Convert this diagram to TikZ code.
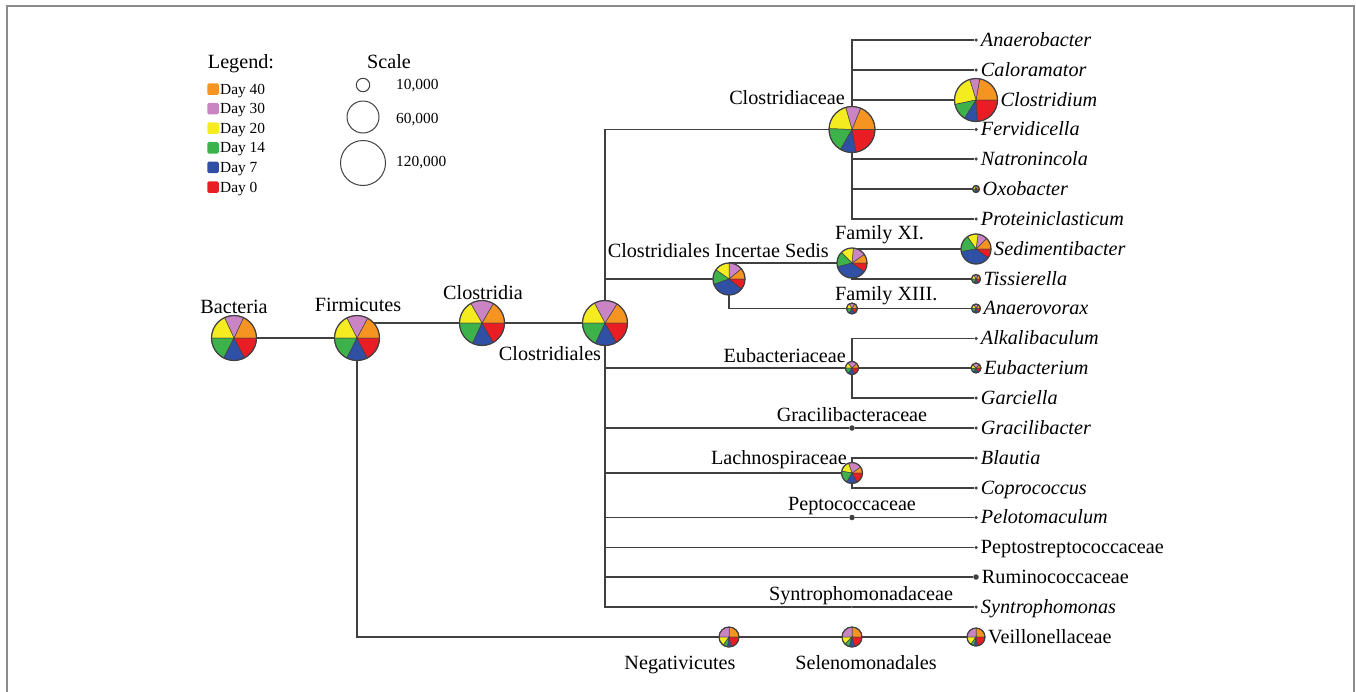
\documentclass[tikz,border=0pt]{standalone}
\usepackage{fontspec}
\setmainfont{Liberation Serif}
\usetikzlibrary{positioning}
\definecolor{dayforty}{RGB}{245,148,32}
\definecolor{daythirty}{RGB}{202,132,196}
\definecolor{daytwenty}{RGB}{244,236,32}
\definecolor{dayfourteen}{RGB}{62,178,74}
\definecolor{dayseven}{RGB}{48,80,166}
\definecolor{dayzero}{RGB}{232,30,36}
\definecolor{treegray}{RGB}{64,64,64}
\definecolor{framegray}{RGB}{140,140,140}
\tikzset{
  branch/.style={draw=treegray, line width=1.5pt},
  piebase/.style={circle, inner sep=0pt, outer sep=0pt},
  slice/.style={draw=treegray, line width=0.5pt},
  pierim/.style={draw=treegray, line width=1.2pt},
  leafdot/.style={circle, fill=treegray, inner sep=0pt, outer sep=0pt, minimum size=3.5pt},
  famdot/.style={leafdot, minimum size=5.5pt},
  taxtext/.style={font=\fontsize{20.2}{24}\selectfont, inner sep=0pt},
  leaftext/.style={taxtext, text height=12pt, text depth=0pt},
  genus/.style={leaftext, font=\fontsize{20.2}{24}\selectfont\itshape},
  keybox/.style={rectangle, rounded corners=1.5pt, minimum size=11.5pt, inner sep=0pt},
  keytext/.style={font=\fontsize{15.4}{18}\selectfont, inner sep=0pt, text height=10pt, text depth=0pt},
  scalering/.style={circle, draw=treegray, line width=1pt, inner sep=0pt},
  frame/.style={draw=framegray, line width=2pt}
}
\pgfdeclarelayer{background}
\pgfsetlayers{background,main}

% pie: name, position, radius, then the end angles of the Day 40/30/20/14/7 slices
\newcommand{\taxonpie}[8]{%
  \node[piebase, minimum size=#3*2pt] (#1) at (#2) {};
  \foreach \pa/\pb/\pc in {0/#4/dayforty, #4/#5/daythirty, #5/#6/daytwenty, #6/#7/dayfourteen, #7/#8/dayseven, #8/360/dayzero}
    \filldraw[slice, fill=\pc] (#1.center) -- ++(\pa:#3pt) arc[start angle=\pa, end angle=\pb, radius=#3pt] -- cycle;
  \draw[pierim] (#1.center) circle[radius=#3pt];
}

\begin{document}
\begin{tikzpicture}[x=1pt, y=1pt]
  \useasboundingbox (0,0) rectangle (1356,-691);
  \draw[frame] (7,-6) rectangle (1354,-720);

  % legend
  \node[taxtext, anchor=base] (legendhead) at (241,-68) {Legend:};
  \foreach \col/\txt [count=\i] in {dayforty/Day 40, daythirty/Day 30, daytwenty/Day 20, dayfourteen/Day 14, dayseven/Day 7, dayzero/Day 0} {
    \node[keybox, fill=\col] (key\i) at (213, {-89-19.6*(\i-1)}) {};
    \node[keytext, right=1pt of key\i] (keytxt\i) {\txt};
  }

  % scale
  \node[taxtext, anchor=base] (scalehead) at (389,-68) {Scale};
  \node[scalering, minimum size=13.4pt] (ring1) at (363,-85) {};
  \node[scalering, minimum size=32pt] (ring2) at (363,-117) {};
  \node[scalering, minimum size=45pt] (ring3) at (363,-163) {};
  \node[keytext, anchor=west] (ringtxt1) at (396,-84.5) {10,000};
  \node[keytext, anchor=west] (ringtxt2) at (396,-118) {60,000};
  \node[keytext, anchor=west] (ringtxt3) at (396,-161.5) {120,000};

  % taxa with pies
  \taxonpie{bact}{234,-338}{22.5}{65}{115}{180}{243}{298}
  \taxonpie{firm}{357,-338}{22.5}{62}{117}{180}{243}{297}
  \taxonpie{cla}{482,-323}{22.5}{60}{120}{180}{245}{300}
  \taxonpie{cles}{605,-323}{22.5}{58}{118}{180}{245}{300}
  \taxonpie{cfam}{852,-129.5}{23}{68}{106}{178}{240}{280}
  \taxonpie{clostridium}{976,-100}{21.5}{80}{107}{192}{238}{274}
  \taxonpie{oxobacter}{976,-189}{3.5}{60}{120}{180}{240}{300}
  \taxonpie{incert}{729,-279}{16}{40}{90}{145}{200}{322}
  \taxonpie{famxi}{852,-263}{15}{35}{85}{135}{195}{325}
  \taxonpie{sedim}{976,-249}{15}{45}{82}{125}{190}{325}
  \taxonpie{tiss}{976,-279}{4.5}{60}{120}{180}{240}{300}
  \taxonpie{famxiii}{852,-308.5}{5.5}{60}{120}{180}{240}{300}
  \taxonpie{anaerovorax}{976,-308.5}{4.5}{60}{120}{180}{240}{300}
  \taxonpie{eubfam}{852,-368}{6.5}{45}{130}{180}{235}{295}
  \taxonpie{eubact}{976,-368}{5}{45}{135}{190}{240}{295}
  \taxonpie{lachno}{852,-473}{10.5}{35}{110}{170}{240}{300}
  \taxonpie{negat}{729,-637}{10}{90}{180}{235}{262}{285}
  \taxonpie{selen}{852,-637}{10}{90}{180}{225}{255}{285}
  \taxonpie{veill}{976,-637}{9}{90}{180}{235}{260}{280}

  % taxa without pies
  \node[leafdot] (anaerobacter) at (976,-40) {};
  \node[leafdot] (caloramator) at (976,-70) {};
  \node[leafdot] (fervidicella) at (976,-129.5) {};
  \node[leafdot] (natronincola) at (976,-159) {};
  \node[leafdot] (proteinicl) at (976,-219) {};
  \node[leafdot] (alkali) at (976,-338.5) {};
  \node[leafdot] (garc) at (976,-398) {};
  \node[famdot] (gracfam) at (852,-428) {};
  \node[leafdot] (gracil) at (976,-428) {};
  \node[leafdot] (blautia) at (976,-458) {};
  \node[leafdot] (copro) at (976,-488) {};
  \node[famdot] (peptoc) at (852,-517.5) {};
  \node[leafdot] (pelot) at (976,-517.5) {};
  \node[leafdot] (peptostr) at (976,-547.5) {};
  \node[famdot] (rumino) at (976,-577) {};
  \node[leafdot, minimum size=2.5pt] (syntrfam) at (852,-607) {};
  \node[leafdot] (syntr) at (976,-607) {};

  % higher taxa labels
  \node[taxtext, anchor=base] (bact-t) at (234,-313) {Bacteria};
  \node[taxtext, anchor=base] (firm-t) at (358,-311) {Firmicutes};
  \node[taxtext, anchor=base] (cla-t) at (483,-299) {Clostridia};
  \node[taxtext, anchor=base] (cles-t) at (550,-360) {Clostridiales};
  \node[taxtext, anchor=base east] (cfam-t) at (845,-104) {Clostridiaceae};
  \node[taxtext, anchor=base east] (incert-t) at (829,-257) {Clostridiales Incertae Sedis};
  \node[taxtext, anchor=base west] (famxi-t) at (835,-239) {Family XI.};
  \node[taxtext, anchor=base west] (famxiii-t) at (835,-300) {Family XIII.};
  \node[taxtext, anchor=base east] (eubfam-t) at (846,-362) {Eubacteriaceae};
  \node[taxtext, anchor=base] (gracfam-t) at (852,-421) {Gracilibacteraceae};
  \node[taxtext, anchor=base east] (lachno-t) at (847,-464) {Lachnospiraceae};
  \node[taxtext, anchor=base] (peptoc-t) at (852,-510) {Peptococcaceae};
  \node[taxtext, anchor=base] (syntrfam-t) at (861,-600) {Syntrophomonadaceae};
  \node[taxtext, anchor=base] (negat-t) at (680,-669) {Negativicutes};
  \node[taxtext, anchor=base] (selen-t) at (866,-669) {Selenomonadales};

  % leaf labels
  \node[genus, right=3pt of anaerobacter] (anaerobacter-t) {Anaerobacter};
  \node[genus, right=3pt of caloramator] (caloramator-t) {Caloramator};
  \node[genus, right=3pt of clostridium] (clostridium-t) {Clostridium};
  \node[genus, right=3pt of fervidicella] (fervidicella-t) {Fervidicella};
  \node[genus, right=3pt of natronincola] (natronincola-t) {Natronincola};
  \node[genus, right=3pt of oxobacter] (oxobacter-t) {Oxobacter};
  \node[genus, right=3pt of proteinicl] (proteinicl-t) {Proteiniclasticum};
  \node[genus, right=3pt of sedim] (sedim-t) {Sedimentibacter};
  \node[genus, right=3pt of tiss] (tiss-t) {Tissierella};
  \node[genus, right=3pt of anaerovorax] (anaerovorax-t) {Anaerovorax};
  \node[genus, right=3pt of alkali] (alkali-t) {Alkalibaculum};
  \node[genus, right=3pt of eubact] (eubact-t) {Eubacterium};
  \node[genus, right=3pt of garc] (garc-t) {Garciella};
  \node[genus, right=3pt of gracil] (gracil-t) {Gracilibacter};
  \node[genus, right=3pt of blautia] (blautia-t) {Blautia};
  \node[genus, right=3pt of copro] (copro-t) {Coprococcus};
  \node[genus, right=3pt of pelot] (pelot-t) {Pelotomaculum};
  \node[leaftext, right=3pt of peptostr] (peptostr-t) {Peptostreptococcaceae};
  \node[leaftext, right=3pt of rumino] (rumino-t) {Ruminococcaceae};
  \node[genus, right=3pt of syntr] (syntr-t) {Syntrophomonas};
  \node[leaftext, right=3pt of veill] (veill-t) {Veillonellaceae};

  % tree
  \begin{pgfonlayer}{background}
    \draw[branch] (bact) -- (firm);
    \draw[branch] (firm |- cla) -- (cla) -- (cles);
    \draw[branch] (firm) |- (negat) -- (selen) -- (veill);
    \foreach \fam in {cfam, incert, eubfam, gracfam, lachno, peptoc, peptostr, rumino, syntrfam}
      \draw[branch] (cles) |- (\fam);
    \foreach \leaf in {anaerobacter, caloramator, clostridium, natronincola, oxobacter, proteinicl}
      \draw[branch] (cfam) |- (\leaf);
    \draw[branch] (cfam) -- (fervidicella);
    \draw[branch] (incert) |- (famxi);
    \draw[branch] (incert) |- (famxiii) -- (anaerovorax);
    \draw[branch] (famxi) |- (sedim);
    \draw[branch] (famxi) |- (tiss);
    \draw[branch] (eubfam) |- (alkali);
    \draw[branch] (eubfam) -- (eubact);
    \draw[branch] (eubfam) |- (garc);
    \draw[branch] (gracfam) -- (gracil);
    \draw[branch] (lachno) |- (blautia);
    \draw[branch] (lachno) |- (copro);
    \draw[branch] (peptoc) -- (pelot);
    \draw[branch] (syntrfam) -- (syntr);
  \end{pgfonlayer}
\end{tikzpicture}
\end{document}
